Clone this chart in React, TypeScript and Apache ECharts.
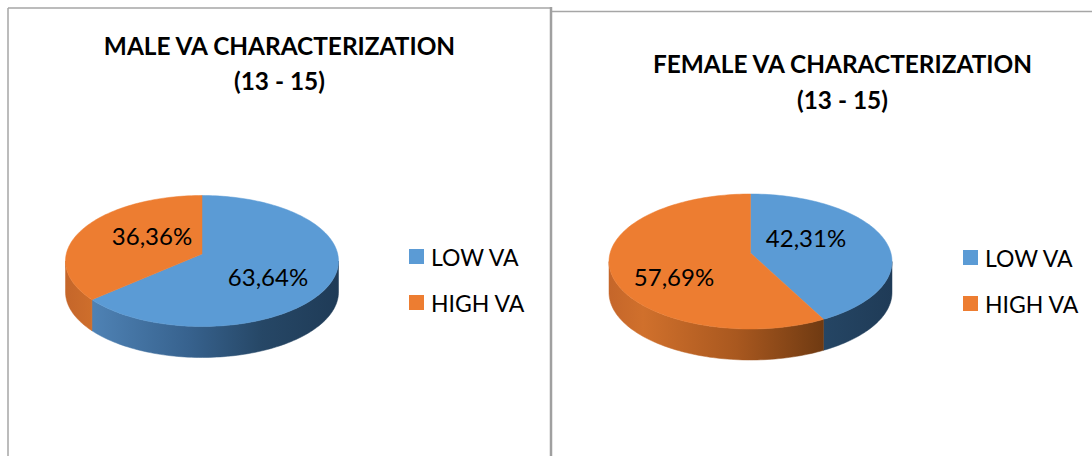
import React, { useEffect, useRef } from "react";
import * as echarts from "echarts";

const categories = ["LOW VA", "HIGH VA"];
const maleValues = [63.64, 36.36];
const femaleValues = [42.31, 57.69];
const titles = ["MALE VA CHARACTERIZATION\n(13 - 15)", "FEMALE VA CHARACTERIZATION\n(13 - 15)"];

const topColors = ["#5B9BD5", "#ED7D31"];
const FONT = "Lato, Carlito, Calibri, sans-serif";

type Stop = [number, string];
const sideStops: Stop[][] = [
  [[0, "#5488bb"], [0.12, "#4d80b2"], [0.45, "#37628e"], [0.72, "#264766"], [1, "#1f3b57"]],
  [[0, "#c5662a"], [0.12, "#d0702c"], [0.45, "#a9581f"], [0.78, "#6b3811"], [1, "#5e300e"]],
];

const malePie = { cx: 202, cy: 261, rx: 136.5, ry: 65.5, apexY: 254, depth: 31, labels: [[268, 276], [152, 235]] };
const femalePie = { cx: 750.5, cy: 261.5, rx: 141.5, ry: 67.5, apexY: 253, depth: 31, labels: [[806, 237], [674, 276]] };

type Pie = typeof malePie;

// ray from the perspective-shifted apex to the rim of the ellipse, returned as the ellipse's own clockwise angle
function rimAngle(p: Pie, deg: number): number {
  if (deg <= 0) return 0;
  if (deg >= 360) return 360;
  const a = (deg * Math.PI) / 180;
  const dx = Math.sin(a);
  const dy = -Math.cos(a);
  const oy = (p.apexY - p.cy) / p.ry;
  const A = dx * dx + dy * dy;
  const B = 2 * oy * dy;
  const C = oy * oy - 1;
  const t = (-B + Math.sqrt(B * B - 4 * A * C)) / (2 * A);
  const x = dx * t;
  const y = oy + dy * t;
  let phi = (Math.atan2(x, -y) * 180) / Math.PI;
  if (phi < 0) phi += 360;
  return phi;
}

function rimPoints(p: Pie, from: number, to: number, shift = 0): number[][] {
  const pts: number[][] = [];
  const n = Math.max(2, Math.ceil((to - from) / 1.5));
  for (let i = 0; i <= n; i++) {
    const a = ((from + ((to - from) * i) / n) * Math.PI) / 180;
    pts.push([p.cx + Math.sin(a) * p.rx, p.cy - Math.cos(a) * p.ry + shift]);
  }
  return pts;
}

function sliceSeries(pie: Pie, values: number[]) {
  const total = values.reduce((s, v) => s + v, 0);
  let start = 0;
  return values.map((v, i) => {
    const begin = start;
    start += v;
    return {
      type: "custom" as const,
      name: categories[i],
      coordinateSystem: "none",
      itemStyle: { color: topColors[i] },
      silent: true,
      data: [[v, begin]],
      renderItem: (_: any, api: any) => {
        const value = api.value(0) as number;
        const beginValue = api.value(1) as number;
        const a = rimAngle(pie, (beginValue / total) * 360);
        const b = rimAngle(pie, ((beginValue + value) / total) * 360);
        const children: any[] = [];
        const sa = Math.max(a, 90);
        const sb = Math.min(b, 270);
        if (sb > sa) {
          const upper = rimPoints(pie, sa, sb);
          const lower = rimPoints(pie, sa, sb, pie.depth).reverse();
          const grad = new echarts.graphic.LinearGradient(
            pie.cx - pie.rx, 0, pie.cx + pie.rx, 0,
            sideStops[i].map(([offset, color]) => ({ offset, color })),
            true,
          );
          children.push({
            type: "polygon",
            shape: { points: upper.concat(lower) },
            style: { fill: grad, stroke: grad, lineWidth: 0.5 },
          });
        }
        children.push({
          type: "polygon",
          shape: { points: [[pie.cx, pie.apexY], ...rimPoints(pie, a, b)] },
          style: { fill: topColors[i], stroke: topColors[i], lineWidth: 0.5 },
        });
        const [lx, ly] = pie.labels[i];
        children.push({
          type: "text",
          style: {
            x: lx,
            y: ly,
            text: value.toFixed(2).replace(".", ",") + "%",
            fill: "#000",
            font: `24px ${FONT}`,
            align: "center",
            verticalAlign: "middle",
          },
        });
        return { type: "group", children };
      },
    };
  });
}

function legendAt(left: number, top: number) {
  return {
    left,
    top,
    padding: 0,
    orient: "vertical" as const,
    itemWidth: 15,
    itemHeight: 15,
    itemGap: 23,
    icon: "rect",
    selectedMode: false,
    data: categories.map((name, i) => ({ name, itemStyle: { color: topColors[i] } })),
    textStyle: { color: "#000", fontSize: 23, fontFamily: FONT, padding: [0, 0, 0, 2] },
  };
}

function titleAt(text: string, left: number, top: number) {
  return {
    text,
    left,
    top,
    textAlign: "center" as const,
    padding: 0,
    textStyle: { color: "#000", fontSize: 24.4, fontWeight: 700, fontFamily: FONT, lineHeight: 35.5 },
  };
}

export default function App() {
  const ref = useRef<HTMLDivElement>(null);
  useEffect(() => {
    document.body.style.margin = "0";
    const chart = echarts.init(ref.current!, undefined, { renderer: "svg" });
    chart.setOption({
      animation: false,
      backgroundColor: "#fff",
      title: [titleAt(titles[0], 279.5, 27.5), titleAt(titles[1], 842.5, 46)],
      legend: [legendAt(409, 245), legendAt(963, 246)],
      graphic: [
        { type: "line", shape: { x1: 8, y1: 8, x2: 551, y2: 8 }, style: { stroke: "#a6a6a6", lineWidth: 1.5 } },
        { type: "line", shape: { x1: 8, y1: 8, x2: 8, y2: 456 }, style: { stroke: "#a6a6a6", lineWidth: 1.5 } },
        { type: "line", shape: { x1: 551, y1: 7, x2: 551, y2: 456 }, style: { stroke: "#a0a0a0", lineWidth: 2.5 } },
        { type: "line", shape: { x1: 552, y1: 11.5, x2: 1092, y2: 11.5 }, style: { stroke: "#a6a6a6", lineWidth: 1.5 } },
      ],
      series: [...sliceSeries(malePie, maleValues), ...sliceSeries(femalePie, femaleValues)],
    });
    return () => chart.dispose();
  }, []);
  return <div ref={ref} style={{ position: "absolute", left: 0, top: 0, width: 1092, height: 456 }} />;
}
